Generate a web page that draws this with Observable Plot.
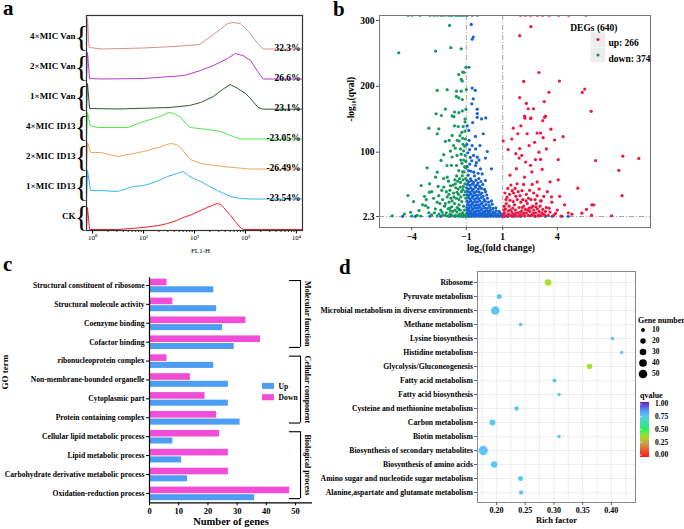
<!DOCTYPE html>
<html><head><meta charset="utf-8">
<script src="https://cdn.jsdelivr.net/npm/d3@7"></script>
<script src="https://cdn.jsdelivr.net/npm/@observablehq/plot@0.6"></script>
<style>
body{margin:0;background:#fff;}
#fig{position:relative;width:684px;height:529px;overflow:hidden;font-family:"Liberation Serif","Times New Roman",serif;background:#fff;}
.panel{position:absolute;}
.panel svg{overflow:visible;}
</style></head>
<body><div id="fig">
<div class="panel" id="pa" style="left:0;top:0"></div>
<div class="panel" id="pb" style="left:340px;top:0"></div>
<div class="panel" id="pc" style="left:0;top:262px"></div>
<div class="panel" id="pd" style="left:340px;top:262px"></div>
</div>
<script>
// ---------------- Panel a data: flow cytometry histograms [log10(FL1-H), relative count]
const samples = ["CK","1×MIC ID13","2×MIC ID13","4×MIC ID13","1×MIC Van","2×MIC Van","4×MIC Van"];
const sampleColors = ["#ee2328","#35b9f0","#f3a45f","#52e84a","#2c5a35","#b33bcc","#d49090"];
const samplePct = ["","-23.54%","-26.49%","-23.05%","23.1%","26.6%","32.3%"];
const flCK    = [[-0.12,0],[-0.1,22],[-0.06,0],[0.5,0],[1.0,2],[1.3,4],[1.47,6],[1.65,9],[1.78,12],[1.95,15],[2.12,19],[2.25,22],[2.35,24],[2.45,26],[2.52,25],[2.57,22],[2.71,14],[2.8,8],[2.9,2],[2.96,0],[4.12,0]];
const fl1ID13 = [[-0.12,0],[-0.1,29],[-0.04,9],[0.16,9],[0.49,8],[0.8,13],[1.0,14],[1.14,16],[1.3,19],[1.47,23],[1.65,26],[1.78,28],[1.88,24],[1.98,21],[2.12,18],[2.3,13],[2.45,9],[2.71,3],[2.9,1],[3.1,0.5],[4.12,0.5]];
const fl2ID13 = [[-0.12,0],[-0.1,27],[-0.04,17],[0.16,17],[0.49,13],[0.8,16],[1.0,18],[1.14,20],[1.3,22],[1.4,24],[1.53,26],[1.65,25],[1.76,20],[1.85,14],[1.92,10],[2.12,6],[2.4,4],[2.76,2],[3.1,0.5],[4.12,0.5]];
const fl4ID13 = [[-0.12,0],[-0.1,27],[-0.05,14],[0.1,12],[0.4,12],[0.69,12],[0.94,17],[1.2,21],[1.33,23],[1.49,27],[1.6,26],[1.73,22],[1.85,15],[1.92,12],[2.25,10],[2.51,8],[2.76,3],[2.9,0.5],[4.12,0.5]];
const fl1Van  = [[-0.12,0],[-0.1,26],[-0.06,1],[0.5,0.5],[1.5,2],[1.9,4],[2.12,7],[2.37,13],[2.55,20],[2.7,25],[2.78,23],[2.85,21],[3.0,16],[3.1,11],[3.25,2],[3.35,0.3],[4.12,0.3]];
const fl2Van  = [[-0.12,0],[-0.1,27],[-0.06,1],[0.2,0.5],[1.0,1],[1.8,4],[2.12,9],[2.37,14],[2.65,21],[2.8,26],[2.95,24],[3.1,19],[3.24,8],[3.35,0.5],[4.12,0.5]];
const fl4Van  = [[-0.12,0],[-0.1,31],[-0.07,2],[0.2,0.5],[1.0,1.5],[1.6,3],[2.1,5],[2.37,15],[2.5,20],[2.65,26],[2.75,27],[2.9,26],[3.06,18],[3.24,6],[3.35,0.5],[4.12,0.5]];
const flCurves = [flCK,fl1ID13,fl2ID13,fl4ID13,fl1Van,fl2Van,fl4Van];
const flTicks = [1,10,100,1000,10000];

// ---------------- Panel b data: volcano [log2FC, -log10(qval)]
const degTotal = 640, upCount = 266, downCount = 374;
const volcanoNs = [[-0.73,294],[-0.62,274.8],[-0.68,271.5],[-0.86,229],[-0.68,197.3],[-0.51,194],[-0.62,181],[-0.7,173.5],[-0.4,165.3],[-0.4,158.6],[-0.16,150.5],[0.07,152],[-0.4,153],[-0.86,133],[-0.07,128],[-0.68,110],[-0.49,105],[-0.82,104],[-0.4,92.4],[0.05,91],[-0.81,82],[-0.49,79.8],[-0.22,74.7],[0.38,74.7],[-0.59,69.6],[-0.13,67],[-0.77,59.6],[-0.31,60],[0.05,57],
[-0.95,308],[-0.68,308],[-0.4,308],
[-0.9,65],[-0.75,71],[-0.55,64],[-0.35,68],[-0.95,78],[-0.7,87],[-0.6,95],[-0.92,99],[-0.3,88],[-0.85,118],[-0.5,124],[-0.95,140],[-0.65,145],[-0.25,110],[0.15,101],[-0.97,112],[-0.78,92],[-0.45,84],[-0.88,72],
[-0.96,57],[-0.86,55],[-0.72,56.5],[-0.6,54],[-0.47,57.5],[-0.36,53],[-0.2,55.5],
[-0.93,51],[-0.8,49.5],[-0.67,51.5],[-0.54,49],[-0.41,50.5],[-0.27,48],[-0.1,51],
[-0.98,46],[-0.88,44],[-0.75,45.5],[-0.62,43.5],[-0.49,46.5],[-0.34,44],[-0.17,45],[0.0,43.5],
[-0.94,40.5],[-0.82,39],[-0.69,41],[-0.57,38.5],[-0.44,40],[-0.3,39.5],[-0.14,38],[0.06,40],
[-0.97,35.5],[-0.86,34],[-0.74,36],[-0.61,33.5],[-0.5,35],[-0.38,34],[-0.24,36],[-0.08,33],[0.12,35],
[-0.93,30.5],[-0.8,29],[-0.68,31],[-0.56,28.5],[-0.44,30],[-0.32,29.5],[-0.19,31],[-0.03,28],[0.16,30],
[-0.97,25.5],[-0.87,24],[-0.75,26],[-0.63,23.5],[-0.51,25],[-0.39,24.5],[-0.26,26],[-0.12,23.5],[0.04,25.5],[0.22,24],[0.38,26],
[-0.94,20.5],[-0.82,19],[-0.7,21],[-0.58,18.5],[-0.46,20],[-0.34,19.5],[-0.21,21],[-0.07,18.5],[0.08,20.5],[0.25,19],[0.42,21],
[-0.97,16],[-0.86,14.5],[-0.74,16.5],[-0.62,14],[-0.5,15.5],[-0.38,15],[-0.26,16.5],[-0.13,14],[0.01,15.5],[0.15,14.5],[0.3,16],[0.46,14.5],[0.62,15.5],
[-0.93,11.5],[-0.81,10],[-0.69,12],[-0.57,9.5],[-0.45,11],[-0.33,10.5],[-0.21,12],[-0.08,9.5],[0.05,11],[0.19,10],[0.33,11.5],[0.48,9.5],[0.64,11],[0.8,10],
[-0.97,7.5],[-0.86,6],[-0.74,8],[-0.62,6.5],[-0.5,7.5],[-0.38,6],[-0.26,8],[-0.13,6.5],[0.0,7.5],[0.13,6],[0.27,8],[0.41,6.5],[0.56,7.5],[0.71,6],[0.86,7.5],[1.02,6],
[-1.3,4],[-1.12,3.5],[-0.93,4.5],[-0.8,3.5],[-0.68,4.5],[-0.56,3.5],[-0.44,4.5],[-0.32,3.5],[-0.2,4.5],[-0.08,3.5],[0.05,4.5],[0.18,3.5],[0.31,4.5],[0.45,3.5],[0.6,4.5],[0.75,3.5],[0.9,4.5],[1.05,3.5],[1.25,4],[1.5,3.5],
[-4.5,2.6],[-3.8,2.5],[-3.0,2.7],[-2.4,2.5],[-1.9,2.6],[-1.6,2.5],[-1.4,2.7],[-1.2,2.5],[-1.0,2.6],[-0.85,2.4],[-0.7,2.6],[-0.55,2.5],[-0.4,2.7],[-0.25,2.5],[-0.1,2.6],[0.05,2.4],[0.2,2.6],[0.35,2.5],[0.5,2.7],[0.65,2.5],[0.8,2.6],[0.95,2.4],[1.1,2.6],[1.3,2.5],[1.6,2.6],[2.0,2.5],[2.8,2.6],[3.35,2.5],[3.72,2.6],[4.26,2.5],[4.6,2.6]];
const volcanoDown = [[-4.2,308],[-3.98,308],[-3.55,308],[-3.0,308],[-2.78,308],[-2.6,308],[-2.4,308],[-2.3,308],[-2.15,308],[-1.96,308],[-1.85,308],[-1.78,308],[-1.6,308],[-1.5,308],[-1.41,308],[-1.3,308],[-1.19,308],[-1.08,308],
[-1.92,292.6],[-4.71,251],[-2.69,253.5],[-1.85,258.7],[-1.28,257],[-1.03,229],[-1.2,221.6],[-1.12,221],[-1.42,218],[-1.28,210.5],[-1.22,208],[-2.6,193.8],[-2.05,195],[-1.54,192.7],[-1.28,192.7],[-1.0,195],[-1.55,184.7],[-1.41,182.6],[-1.22,180],[-2.15,165.4],[-1.02,165],[-2.66,158.4],[-2.37,155.7],[-1.65,161],[-1.41,160],[-1.22,162.7],[-1.78,155],[-1.07,150.4],
[-1.68,154],[-3.06,136.5],[-2.51,135.5],[-1.45,139],[-1.17,139],[-1.07,146],[-2.6,127.9],[-1.78,125.4],[-2.15,116.3],[-1.94,118],[-1.39,117],[-1.2,121],[-1.09,109],[-1.6,106],[-1.32,105],[-1.87,101.7],[-2.24,96.2],[-1.78,92.7],[-1.51,95],[-1.28,97],[-1.15,102],[-3.15,76.3],[-2.39,87.5],[-2.06,79.8],[-1.82,80],[-1.54,79.8],[-1.24,83],[-2.6,69.6],[-2.69,62],[-2.05,62],[-1.41,72],[-1.13,70],[-3.48,49.4],[-3.02,52],[-2.24,47],[-1.87,49],[-1.6,52],[-1.32,54],[-4.21,34.2],[-3.02,39.3],[-2.51,34],[-1.96,36],[-1.51,39],[-1.19,43],[-3.4,20],[-3.24,19],[-2.6,24],[-2.15,22],[-1.78,26],[-1.41,28],[-4.06,8.8],[-3.6,11.3],[-3.06,8],[-2.33,9],[-1.87,11],[-1.41,13],[-5.07,3.3],
[-1.05,5],[-1.1,12],[-1.15,18],[-1.2,8],[-1.25,25],[-1.3,32],[-1.35,6],[-1.4,20],[-1.45,44],[-1.5,16],[-1.55,30],[-1.6,4],[-1.65,22],[-1.7,38],[-1.75,10],[-1.8,17],[-1.85,30],[-1.9,6],[-1.95,24],[-2.0,14],[-2.05,32],[-2.1,8],[-2.2,18],[-2.3,28],[-2.4,12],[-2.5,6],[-2.7,14],[-2.8,30],[-2.9,5],[-3.2,28],[-3.7,4],[-4.4,6],
[-1.03,30],[-1.06,40],[-1.08,52],[-1.04,60],[-1.12,35],[-1.16,48],[-1.18,58],[-1.22,64],[-1.27,40],[-1.33,47],[-1.37,60],[-1.43,36],[-1.47,56],[-1.53,64],[-1.58,46],[-1.63,58],[-1.68,32],[-1.73,50],[-1.9,42],[-1.98,56],[-2.1,40],[-2.25,60],[-2.35,42],[-2.45,22],[-2.55,48],[-2.9,40],[-3.3,33],[-3.9,25],[-1.02,86],[-1.06,95],[-1.1,78],[-1.14,88],[-1.18,112],[-1.25,130],[-1.3,88],[-1.35,125],[-1.5,118],[-1.65,140],[-1.7,110],[-1.2,70],[-1.03,76],[-1.05,120],[-1.08,132],
[-1.02,3],[-1.08,3.5],[-1.13,2.8],[-1.18,4],[-1.28,3],[-1.33,12],[-1.44,3.5],[-1.52,9],[-1.62,12],[-1.72,3],[-1.82,5],[-1.92,15],[-2.02,3],[-2.15,4],[-2.28,5],[-2.6,3],[-2.75,8],[-3.1,16],[-3.5,3],[-4.0,3]];
const volcanoUp = [[1.98,308],[2.25,308],[2.53,308],[2.9,308],[3.19,308],[3.55,308],[4.07,308],[4.62,308],[5.57,308],
[2.55,290.6],[1.93,277],[2.99,221],[2.15,207.5],[4.12,208],[5.51,195.8],[5.37,190.7],[3.54,191],[1.93,183],[3.28,176.8],[2.3,174],[2.4,166],[2.69,166],[5.86,162],[2.2,154.7],[2.55,152],[3.35,154.7],
[1.58,136.5],[2.22,151.7],[2.53,151],[3.3,153],[3.2,148],[1.83,128],[2.34,128],[2.89,129],[3.08,129],[3.22,122],[3.85,118.5],[4.32,123.5],[1.03,117],[1.3,104],[1.93,105.5],[2.99,100],[1.72,97.7],[1.9,91],[2.8,88.7],[3.08,89],[4.05,88.7],[6.1,87.4],[7.6,93.9],[8.48,90.5],[2.26,85],[2.53,80],[3.17,73.9],[7.38,72.5],[4.05,58],[2.89,54.8],[1.79,52],[2.15,51],[2.62,51],[5.13,45.3],[1.52,41.5],[2.06,41.5],[1.24,31.6],[1.72,33],[2.89,34],[3.26,33],[3.68,32],[4.13,33],[7.56,34],[6.0,20],[5.9,20],[5.6,13],[5.35,7.4],[4.8,5.8],[5.88,4.3],[6.98,3.3],[3.9,7],
[1.05,3],[1.1,8],[1.15,14],[1.2,22],[1.25,5],[1.3,11],[1.35,18],[1.4,27],[1.45,3.5],[1.5,9],[1.55,15],[1.6,6],[1.65,20],[1.7,12],[1.75,3],[1.8,28],[1.85,8],[1.9,16],[1.95,4],[2.0,24],[2.05,11],[2.1,6],[2.15,18],[2.2,3],[2.25,13],[2.3,8],[2.35,22],[2.4,4],[2.45,15],[2.5,10],[2.55,28],[2.6,5],[2.65,18],[2.7,12],[2.75,3],[2.8,8],[2.85,22],[2.9,14],[2.95,5],[3.0,10],[3.05,18],[3.1,3.5],[3.15,8],[3.2,13],[3.3,5],[3.4,16],[3.5,4],[3.6,9],[3.7,24],[3.8,4],[4.0,12],[4.2,3],[4.4,20],[4.6,8],
[1.08,18],[1.12,38],[1.18,28],[1.28,45],[1.38,36],[1.45,50],[1.6,38],[1.68,45],[1.85,40],[1.95,34],[2.1,28],[2.3,36],[2.42,30],[2.48,42],[2.7,38],[2.78,28],[3.0,44],[3.12,26],[3.45,40],[3.6,55],[2.2,62],[2.6,70],[1.4,65],[1.75,75],[2.05,95],[2.45,110],[1.5,120],[2.75,115],[3.4,105],[3.65,135],[2.0,140],
[1.02,5.5],[1.06,12],[1.22,2.8],[1.32,6],[1.42,12],[1.52,3],[1.58,25],[1.72,7],[1.88,3],[1.98,9],[2.08,16],[2.18,7],[2.28,26],[2.38,12],[2.52,3.5],[2.58,16],[2.68,7],[2.82,17],[2.98,3],[3.08,26],[3.22,6],[3.35,10],[3.55,15]];
const volcanoXTicks = [-4,-1,1,4];
const volcanoYTicks = [2.3,100,200,300];

// ---------------- Panel c data: GO terms
const goTerms = ["Structural constituent of ribosome","Structural molecule activity","Coenzyme binding","Cofactor binding","ribonucleoprotein complex","Non-membrane-bounded organelle","Cytoplasmic part","Protein containing complex","Cellular lipid metabolic process","Lipid metabolic process","Carbohydrate derivative metabolic process","Oxidation-reduction process"];
const goDown = [6,8,33,38,6,14,19,23,24,27,27,48];
const goUp   = [22,23,25,29,22,27,27,31,8,11,13,36];
const goGroups = ["Molecular function","Cellular component","Biological process"];
const goGroupFirst = [0,4,8];
const goGroupLast = [3,7,11];
const goSeries = ["Up","Down"];
const goColors = ["#4d9ef3","#f24dd6"];
const goXTicks = [0,10,20,30,40,50];

// ---------------- Panel d data: KEGG enrichment
const keggTerms = ["Ribosome","Pyruvate metabolism","Microbial metabolism in diverse environments","Methane metabolism","Lysine biosynthesis","Histidine metabolism","Glycolysis/Gluconeogenesis","Fatty acid metabolism","Fatty acid biosynthesis","Cysteine and methionine metabolism","Carbon metabolism","Biotin metabolism","Biosynthesis of secondary metabolites","Biosynthesis of amino acids","Amino sugar and nucleotide sugar metabolism","Alanine,aspartate and glutamate metabolism"];
const keggRich  = [0.290,0.205,0.198,0.242,0.402,0.418,0.362,0.301,0.309,0.235,0.193,0.309,0.177,0.196,0.242,0.243];
const keggGenes = [30,17,50,9,9,8,21,11,8,13,24,8,58,29,17,13];
const keggQ     = [0.38,0.76,0.76,0.76,0.76,0.76,0.38,0.76,0.76,0.76,0.76,0.76,0.76,0.76,0.76,0.76];
const keggXTicks = [0.20,0.25,0.30,0.35,0.40];
const keggGrid = [0.175,0.20,0.225,0.25,0.275,0.30,0.325,0.35,0.375,0.40,0.425];
const qStops  = [0,0.25,0.38,0.5,0.76,0.88,1];
const qColors = ["#ff1a1a","#c9a04a","#a6e22a","#2cf060","#5bc6f6","#4f7ff5","#7a12b8"];
const sizeLegend = [10,20,30,40,50];
const qLegend = [1.00,0.75,0.50,0.25,0.00];

const FONT = '"Liberation Serif","Times New Roman",serif';
const baseStyle = {fontFamily: FONT, fontSize: "8px", fontWeight: "bold", color: "#000", background: "transparent"};

// ================= Panel a
const sup = {"0":"⁰","1":"¹","2":"²","3":"³","4":"⁴"};
const rowsA = [];
flCurves.forEach((pts, i) => pts.forEach(([lx, h]) => rowsA.push({sample: samples[i], x: 10 ** lx, y: i * 30 + 1 + h})));
const labA = samples.map((s, i) => ({sample: s, pct: samplePct[i], base: i * 30 + 1}));
const minorA = [];
for (let e = 0; e < 4; e++) for (let k = 2; k <= 9; k++) minorA.push(k * 10 ** e);
const xMinA = 10 ** -0.12, xMaxA = 10 ** 4.12;
const chartA = Plot.plot({
  width: 340, height: 262, marginTop: 15, marginLeft: 86, marginRight: 38, marginBottom: 32,
  style: baseStyle,
  x: {type: "log", domain: [xMinA, xMaxA], label: null},
  y: {domain: [0, 215], axis: null, label: null},
  color: {domain: samples, range: sampleColors},
  marks: [
    Plot.line(rowsA, {x: "x", y: "y", z: "sample", stroke: "sample", strokeWidth: 1}),
    Plot.frame({stroke: "#333", strokeWidth: 1.2}),
    Plot.axisX(minorA, {tickSize: 2, tickFormat: () => "", stroke: "#333", label: null}),
    Plot.axisX(flTicks, {tickSize: 3.5, tickFormat: d => "10" + sup[String(Math.round(Math.log10(d)))], fontSize: 7, fontWeight: "normal", tickPadding: 1, label: null}),
    Plot.text(["FL1-H"], {frameAnchor: "bottom", dy: 22, dx: 6, fontSize: 7, fontWeight: "normal"}),
    Plot.text(labA, {x: () => xMinA, y: d => d.base + 13, text: "sample", textAnchor: "end", dx: -11, fontSize: 9}),
    Plot.text(labA, {x: () => xMinA, y: d => d.base + 13, text: () => "{", dx: -5, fontSize: 29, fontWeight: "normal"}),
    Plot.text(labA, {x: () => xMaxA, y: "base", text: "pct", textAnchor: "end", lineAnchor: "bottom", dx: -2, dy: 1, fontSize: 9.5})
  ]
});
document.getElementById("pa").append(chartA);

// ================= Panel b
const toPts = arr => arr.map(([x, y]) => ({x, y}));
const chartB = Plot.plot({
  width: 344, height: 262, marginTop: 15, marginLeft: 39, marginRight: 34, marginBottom: 35,
  style: {...baseStyle, fontSize: "9.5px"},
  x: {domain: [-5.77, 9.12], label: null},
  y: {domain: [-14.4, 307.6], label: null},
  marks: [
    Plot.ruleX([-1, 1], {stroke: "#9a9a9a", strokeDasharray: "5,2,1,2", strokeWidth: 0.9}),
    Plot.ruleY([2.3], {stroke: "#9a9a9a", strokeDasharray: "5,2,1,2", strokeWidth: 0.9}),
    Plot.dot(toPts(volcanoNs), {x: "x", y: "y", r: 1.6, fill: "#1664d4", clip: true}),
    Plot.dot(toPts(volcanoDown), {x: "x", y: "y", r: 1.6, fill: "#17995d", clip: true}),
    Plot.dot(toPts(volcanoUp), {x: "x", y: "y", r: 1.6, fill: "#f2153d", clip: true}),
    Plot.frame({stroke: "#777", strokeWidth: 1}),
    Plot.axisX(volcanoXTicks, {tickSize: 3, tickPadding: 3, label: null, stroke: "#555", fontSize: 9.5}),
    Plot.axisY(volcanoYTicks, {tickSize: 3, tickPadding: 2, tickFormat: d => String(d), label: null, stroke: "#555", fontSize: 9.5}),
    Plot.text(["-log₁₀(qval)"], {frameAnchor: "left", dx: -29, dy: 0, rotate: -90, fontSize: 9.5}),
    Plot.text(["log₂(fold change)"], {frameAnchor: "bottom", dy: 23, dx: -14, fontSize: 9.5}),
    Plot.dot([0], {frameAnchor: "top-right", dx: -52.5, dy: 24, symbol: "square", r: 8.4, fill: "#ececec"}),
    Plot.dot([0], {frameAnchor: "top-right", dx: -52.5, dy: 39.5, symbol: "square", r: 8.4, fill: "#ececec"}),
    Plot.dot([0], {frameAnchor: "top-right", dx: -52.5, dy: 24, r: 1.6, fill: "#f2153d"}),
    Plot.dot([0], {frameAnchor: "top-right", dx: -52.5, dy: 39.5, r: 1.6, fill: "#17995d"}),
    Plot.text([`DEGs (${degTotal})`], {frameAnchor: "top-right", dx: -33, dy: 9, fontSize: 9.5}),
    Plot.text([`up: ${upCount}`], {frameAnchor: "top-right", dx: -42, dy: 24, textAnchor: "start", fontSize: 9.5}),
    Plot.text([`down: ${downCount}`], {frameAnchor: "top-right", dx: -42, dy: 39.5, textAnchor: "start", fontSize: 9.5})
  ]
});
document.getElementById("pb").append(chartB);

// ================= Panel c
const rowsC = [];
goTerms.forEach((t, i) => {
  rowsC.push({series: "Down", v: goDown[i], y1: i - 0.33, y2: i + 0.02});
  rowsC.push({series: "Up", v: goUp[i], y1: i + 0.07, y2: i + 0.39});
});
const groupsC = goGroups.map((g, k) => ({g, y1: goGroupFirst[k] - 0.26, y2: goGroupLast[k] + 0.28, mid: (goGroupFirst[k] + goGroupLast[k]) / 2}));
const armsC = groupsC.flatMap(d => [{y: d.y1}, {y: d.y2}]);
const legC = goSeries.map((s, k) => ({s, y1: 5.18 + k * 0.6, y2: 5.5 + k * 0.6, ym: 5.34 + k * 0.6}));
const chartC = Plot.plot({
  width: 340, height: 267, marginTop: 13.5, marginLeft: 149, marginRight: 28, marginBottom: 26.7,
  style: baseStyle,
  x: {domain: [0, 55.8], label: null},
  y: {domain: [-0.5, 11.5], reverse: true, label: null},
  color: {domain: goSeries, range: goColors},
  marks: [
    Plot.rect(rowsC, {x1: 0, x2: "v", y1: "y1", y2: "y2", fill: "series"}),
    Plot.ruleX([0], {y1: -0.4, y2: 11.5, stroke: "#000", strokeWidth: 1.2}),
    Plot.ruleY([11.5], {x1: 0, x2: 55.8, stroke: "#000", strokeWidth: 1.2}),
    Plot.axisY(d3.range(goTerms.length), {tickSize: 3, tickPadding: 2, tickFormat: i => goTerms[i], label: null, fontSize: 7.6}),
    Plot.axisX(goXTicks, {tickSize: 3, tickPadding: 2, label: null, fontSize: 8.5, anchor: "bottom"}),
    Plot.ruleX(groupsC, {x: 51.7, y1: "y1", y2: "y2", stroke: "#000", strokeWidth: 1.1}),
    Plot.ruleY(armsC, {y: "y", x1: 47.9, x2: 51.7, stroke: "#000", strokeWidth: 1.1}),
    Plot.text(groupsC, {x: 54.2, y: "mid", text: "g", rotate: 90, fontSize: 8}),
    Plot.rect(legC, {x1: 38.7, x2: 42.8, y1: "y1", y2: "y2", fill: "s"}),
    Plot.text(legC, {x: 44.2, y: "ym", text: "s", textAnchor: "start", fontSize: 7.6}),
    Plot.text(["Number of genes"], {frameAnchor: "bottom", dy: 22, fontSize: 10.5}),
    Plot.text(["GO term"], {frameAnchor: "left", dx: -144, rotate: -90, fontSize: 9})
  ]
});
document.getElementById("pc").append(chartC);

// ================= Panel d
const rowsD = keggTerms.map((t, i) => ({term: t, rich: keggRich[i], genes: keggGenes[i], q: keggQ[i]}));
const chartD = Plot.plot({
  width: 344, height: 267, marginTop: 9, marginLeft: 137, marginRight: 49, marginBottom: 27,
  style: {...baseStyle, fontSize: "7.7px"},
  x: {domain: [0.167, 0.442], label: null},
  y: {type: "point", domain: keggTerms, padding: 0.6, label: null},
  r: {type: "sqrt", domain: [0, 50], range: [0, 4.3]},
  color: {type: "linear", domain: qStops, range: qColors},
  marks: [
    Plot.ruleX(keggGrid, {stroke: "#e8e8e8", strokeWidth: 0.8}),
    Plot.ruleY(keggTerms, {stroke: "#e8e8e8", strokeWidth: 0.8}),
    Plot.dot(rowsD, {x: "rich", y: "term", r: "genes", fill: "q"}),
    Plot.frame({stroke: "#8a8a8a", strokeWidth: 1}),
    Plot.axisY({tickSize: 3, tickPadding: 1.5, label: null, stroke: "#666", fontSize: 7.7}),
    Plot.axisX(keggXTicks, {tickSize: 3, tickPadding: 2, tickFormat: d3.format(".2f"), label: null, stroke: "#666", fontSize: 8}),
    Plot.text(["Rich factor"], {frameAnchor: "bottom", dy: 20, fontSize: 8.5})
  ]
});
document.getElementById("pd").append(chartD);

// ================= Overlay: panel letters + panel d legends
const rS = chartD.scale("r"), cS = chartD.scale("color");
const rApply = rS.apply ? rS.apply : d3.scaleSqrt([0, 50], [0, 4.3]);
const cApply = cS.apply ? cS.apply : d3.scaleLinear(qStops, qColors);
const ov = d3.select("#fig").append("svg")
  .attr("width", 684).attr("height", 529)
  .style("position", "absolute").style("left", 0).style("top", 0)
  .style("font-family", FONT).style("font-weight", "bold");
[["a", 3, 15], ["b", 333, 16], ["c", 3, 271], ["d", 339, 274]].forEach(([t, x, y]) =>
  ov.append("text").attr("x", x).attr("y", y).attr("font-size", 21).text(t));
ov.append("text").attr("x", 638).attr("y", 320).attr("dy", "0.32em").attr("font-size", 8).text("Gene number");
sizeLegend.forEach((n, k) => {
  const cy = 330 + k * 11;
  ov.append("circle").attr("cx", 643).attr("cy", cy).attr("r", rApply(n)).attr("fill", "#000");
  ov.append("text").attr("x", 652).attr("y", cy).attr("dy", "0.32em").attr("font-size", 7.5).text(n);
});
ov.append("text").attr("x", 640).attr("y", 395).attr("dy", "0.32em").attr("font-size", 8).text("qvalue");
const grad = ov.append("defs").append("linearGradient").attr("id", "qgrad").attr("x1", 0).attr("y1", 1).attr("x2", 0).attr("y2", 0);
d3.range(0, 1.0001, 0.05).forEach(t => grad.append("stop").attr("offset", t).attr("stop-color", cApply(t)));
ov.append("rect").attr("x", 640).attr("y", 402).attr("width", 9).attr("height", 55).attr("fill", "url(#qgrad)");
qLegend.forEach(q => {
  const y = 455 - 51 * q;
  ov.append("line").attr("x1", 640).attr("x2", 642).attr("y1", y).attr("y2", y).attr("stroke", "#fff").attr("stroke-width", 0.6);
  ov.append("text").attr("x", 655).attr("y", y).attr("dy", "0.32em").attr("font-size", 7.5).text(q.toFixed(2));
});
</script>
</body></html>
